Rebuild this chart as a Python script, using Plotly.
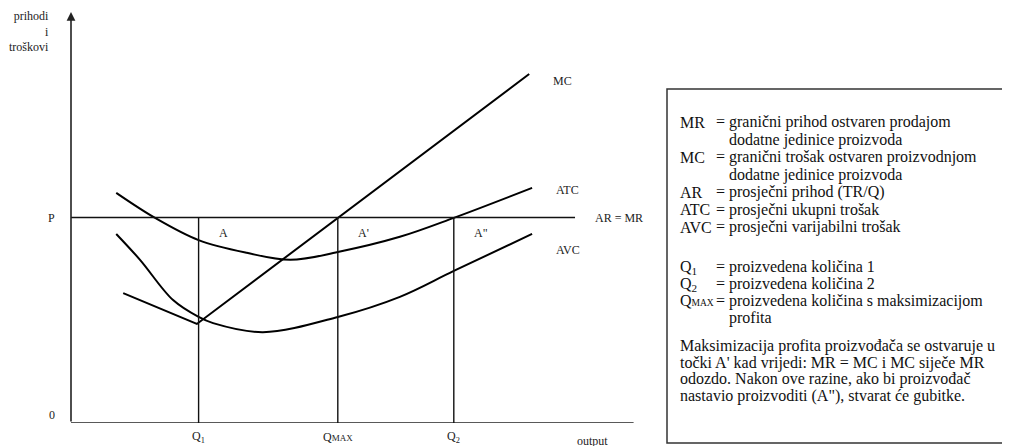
import plotly.graph_objects as go

# ---------------- data (economic diagram values, in chart units) ----------------
q_names = ["Q<sub>1</sub>", "Q<span style='font-size:9px'>MAX</span>", "Q<sub>2</sub>"]
q_values = [2.2, 4.6, 6.6]
price_p = 5.0
mr_end = 8.69
x_axis_end = 9.7

mc_x = [0.9, 2.17, 7.9]
mc_y = [3.16, 2.41, 8.49]

atc_x = [0.78, 1.45, 2.2, 3.03, 3.78, 4.6, 5.67, 6.6, 7.95]
atc_y = [5.6, 4.99, 4.45, 4.14, 3.97, 4.16, 4.53, 4.99, 5.72]

avc_x = [0.78, 1.19, 1.76, 2.2, 2.45, 3.31, 4.6, 5.67, 6.6, 7.95]
avc_y = [4.6, 3.97, 2.99, 2.58, 2.43, 2.21, 2.58, 3.07, 3.70, 4.6]

point_names = ["A", "A'", "A\""]
curve_names = ["MC", "ATC", "AVC"]

legend_rows = [
    ("MR", "= granični prihod ostvaren prodajom"),
    ("", "dodatne jedinice proizvoda"),
    ("MC", "= granični trošak ostvaren proizvodnjom"),
    ("", "dodatne jedinice proizvoda"),
    ("AR", "= prosječni prihod (TR/Q)"),
    ("ATC", "= prosječni ukupni trošak"),
    ("AVC", "= prosječni varijabilni trošak"),
]
q_rows = [
    ("Q<sub>1</sub>", "= proizvedena količina 1"),
    ("Q<sub>2</sub>", "= proizvedena količina 2"),
    ("Q<span style='font-size:9.5px'>MAX</span>", "= proizvedena količina s maksimizacijom"),
    ("", "profita"),
]
paragraph = [
    "Maksimizacija profita proizvođača se ostvaruje u",
    "točki A' kad vrijedi: MR = MC i MC siječe MR",
    "odozdo. Nakon ove razine, ako bi proizvođač",
    "nastavio proizvoditi (A\"), stvarat će gubitke.",
]

# ---------------- layout helpers ----------------
# the page has an 8px body margin, so the figure is 8px smaller and every
# reference pixel position is measured in the window's coordinates
OFF = 8
W, H = 1010 - OFF, 446 - OFF
L, R, T, B = 71, 651, 12, 423
SERIF = "Liberation Serif, serif"


def pxx(x):
    return (x - L) / (R - L)


def pxy(y):
    return (B - y) / (B - T)


fig = go.Figure()
fig.add_trace(go.Scatter(x=mc_x, y=mc_y, mode="lines", line=dict(color="black", width=2), hoverinfo="skip"))
fig.add_trace(go.Scatter(x=atc_x, y=atc_y, mode="lines",
                         line=dict(color="black", width=2, shape="spline", smoothing=1.0), hoverinfo="skip"))
fig.add_trace(go.Scatter(x=avc_x, y=avc_y, mode="lines",
                         line=dict(color="black", width=2, shape="spline", smoothing=1.0), hoverinfo="skip"))

shapes = []
shapes.append(dict(type="line", xref="x", yref="y", x0=0, y0=0, x1=x_axis_end, y1=0,
                   line=dict(color="#222", width=1.6)))
shapes.append(dict(type="line", xref="x", yref="y", x0=0, y0=price_p, x1=mr_end, y1=price_p,
                   line=dict(color="#111", width=1.6)))
for q in q_values:
    shapes.append(dict(type="line", xref="x", yref="y", x0=q, y0=0, x1=q, y1=price_p,
                       line=dict(color="#111", width=1.4)))
shapes.append(dict(type="rect", xref="paper", yref="paper", x0=pxx(667), x1=pxx(1016),
                   y0=pxy(443), y1=pxy(89), line=dict(color="#333", width=1.5)))

ann = []
ann.append(dict(x=0, y=10, ax=0, ay=0, xref="x", yref="y", axref="x", ayref="y",
                text="", showarrow=True, arrowhead=2, arrowsize=1.1, arrowwidth=1.6,
                arrowcolor="#222"))

small = dict(family=SERIF, size=12, color="#222")
ann.append(dict(x=pxx(51), y=pxy(31), xref="paper", yref="paper", xanchor="right", yanchor="middle",
                text="prihodi<br>i<br>troškovi", align="right", showarrow=False, font=small))
ann.append(dict(x=pxx(51), y=price_p, xref="paper", yref="y", xanchor="center", yanchor="middle",
                text="P", showarrow=False, font=small))
ann.append(dict(x=pxx(52), y=pxy(415), xref="paper", yref="paper", xanchor="center", yanchor="middle",
                text="0", showarrow=False, font=small))
for name, q in zip(q_names, q_values):
    ann.append(dict(x=q, y=pxy(437), xref="x", yref="paper", xanchor="center", yanchor="middle",
                    text=name, showarrow=False, font=small))
ann.append(dict(x=pxx(592), y=pxy(441), xref="paper", yref="paper", xanchor="center", yanchor="middle",
                text="output", showarrow=False, font=small))
ann.append(dict(x=mr_end, y=price_p, xref="x", yref="y", xanchor="left", yanchor="middle", xshift=18,
                text="AR = MR", showarrow=False, font=small))
for name, q in zip(point_names, q_values):
    ann.append(dict(x=q, y=price_p, xref="x", yref="y", xanchor="left", yanchor="middle",
                    xshift=18, yshift=-15, text=name, showarrow=False, font=small))
curve_ends = [(mc_x[-1], mc_y[-1], -7), (atc_x[-1], atc_y[-1], -2), (avc_x[-1], avc_y[-1] - 0.4, 0)]
for name, (cx, cy, ys) in zip(curve_names, curve_ends):
    ann.append(dict(x=cx, y=cy, xref="x", yref="y", xanchor="left", yanchor="middle",
                    xshift=22, yshift=ys, text=name, showarrow=False, font=small))

big = dict(family=SERIF, size=16, color="#111")


def add_row(lab, txt, yy):
    if lab:
        ann.append(dict(x=pxx(678), y=pxy(yy), xref="paper", yref="paper", xanchor="left",
                        yanchor="middle", text=lab, showarrow=False, font=big))
    if txt:
        xx = 714 if txt.startswith("=") else 727
        ann.append(dict(x=pxx(xx), y=pxy(yy), xref="paper", yref="paper", xanchor="left",
                        yanchor="middle", text=txt, showarrow=False, font=big))


for i, (lab, txt) in enumerate(legend_rows):
    add_row(lab, txt, 122 + i * 17.5)
for i, (lab, txt) in enumerate(q_rows):
    add_row(lab, txt, 267 + i * 17)
for i, line in enumerate(paragraph):
    ann.append(dict(x=pxx(678), y=pxy(346 + i * 16.5), xref="paper", yref="paper", xanchor="left",
                    yanchor="middle", text=line, showarrow=False, font=big))

fig.update_layout(
    width=W, height=H,
    margin=dict(l=L - OFF, r=(1010 - R), t=T - OFF, b=(446 - B), pad=0),
    paper_bgcolor="white", plot_bgcolor="white",
    showlegend=False,
    shapes=shapes, annotations=ann,
    xaxis=dict(range=[0, 10], visible=False, fixedrange=True),
    yaxis=dict(range=[0, 10], visible=False, fixedrange=True),
)

fig.write_html("out.html")
